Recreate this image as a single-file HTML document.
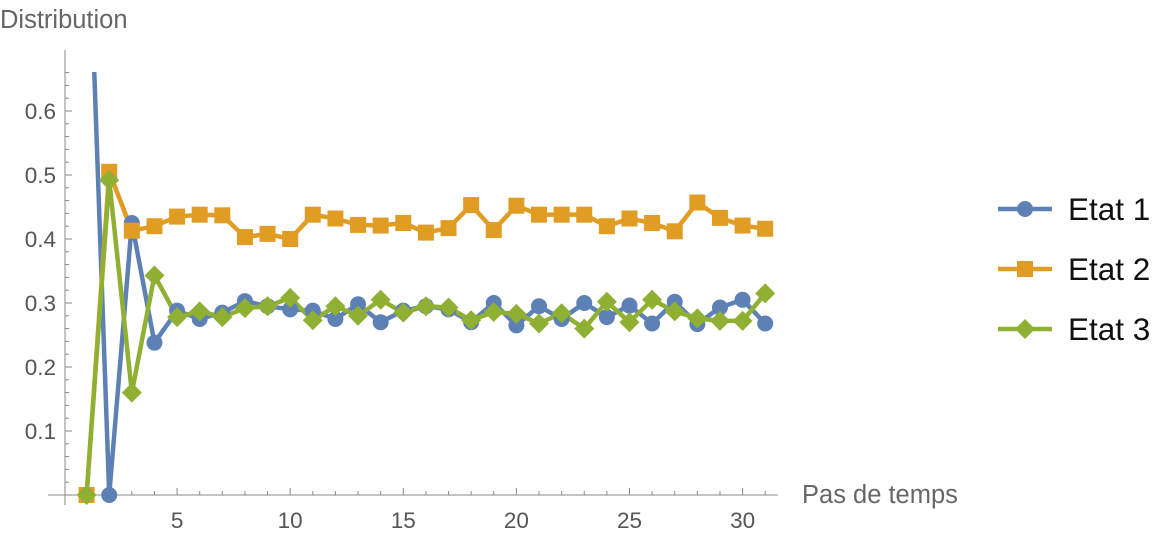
<!DOCTYPE html>
<html><head><meta charset="utf-8"><style>
body{margin:0;background:#fff;}
svg{font-family:"Liberation Sans",sans-serif;}
</style></head><body>
<svg width="1176" height="539">
<defs><clipPath id="pc"><rect x="66" y="72" width="720" height="440"/></clipPath></defs>
<g id="axes"></g>
<g id="series" clip-path="url(#pc)"></g>
<g id="marks"></g>
<text x="0" y="28" font-size="25.5" fill="#666">Distribution</text>
<text x="802" y="503" font-size="25.5" fill="#666">Pas de temps</text>
<g id="legend"></g>
</svg>
<script>
const steps=[1,2,3,4,5,6,7,8,9,10,11,12,13,14,15,16,17,18,19,20,21,22,23,24,25,26,27,28,29,30,31];
const etat1=[1,0,0.425,0.238,0.288,0.275,0.285,0.303,0.295,0.29,0.288,0.275,0.298,0.27,0.288,0.295,0.29,0.27,0.3,0.265,0.295,0.275,0.3,0.278,0.296,0.268,0.302,0.267,0.293,0.305,0.268];
const etat2=[0,0.505,0.413,0.42,0.435,0.438,0.437,0.403,0.408,0.4,0.438,0.432,0.422,0.421,0.425,0.41,0.417,0.453,0.414,0.452,0.438,0.438,0.438,0.42,0.432,0.425,0.412,0.457,0.433,0.421,0.416];
const etat3=[0,0.492,0.16,0.343,0.278,0.287,0.278,0.292,0.295,0.308,0.273,0.295,0.28,0.305,0.285,0.295,0.293,0.273,0.286,0.283,0.268,0.284,0.26,0.302,0.27,0.305,0.287,0.276,0.272,0.272,0.315];
const yTicks=[0.1,0.2,0.3,0.4,0.5,0.6];
const xTicks=[5,10,15,20,25,30];
const names=["Etat 1","Etat 2","Etat 3"];
const colors=["#5e81b5","#e19c24","#8fb032"];
const NS="http://www.w3.org/2000/svg";
function X(v){return 86.6+(v-1)*22.62;}
function Y(v){return 495-v*640;}
function mk(t,a,p){const e=document.createElementNS(NS,t);for(const k in a)e.setAttribute(k,a[k]);p.appendChild(e);return e;}
const ax=document.getElementById('axes');
let l=mk('line',{x1:65,y1:50,x2:65,y2:505,stroke:'#888','stroke-width':1},ax);


l=mk('line',{x1:48,y1:495,x2:778,y2:495,stroke:'#888','stroke-width':1},ax);


for(let i=1;i<=33;i++){const v=i*0.02;const maj=Math.abs(v*10-Math.round(v*10))<1e-6;mk('line',{x1:65,y1:Y(v),x2:65+(maj?7:4),y2:Y(v),stroke:'#888'},ax);}
yTicks.forEach(v=>{const t=mk('text',{x:56,y:Y(v)+8,'text-anchor':'end','font-size':22.5,fill:'#555'},ax);t.textContent=v.toFixed(1);

});
for(let i=1;i<=31;i++){const maj=i%5==0;mk('line',{x1:X(i),y1:495,x2:X(i),y2:495-(maj?7:4),stroke:'#888'},ax);}
xTicks.forEach(v=>{const t=mk('text',{x:X(v),y:528,'text-anchor':'middle','font-size':22.5,fill:'#555'},ax);t.textContent=v;

});
const sg=document.getElementById('series'),mg=document.getElementById('marks');
function marker(type,x,y,c,p){let e;
 if(type==0)e=mk('circle',{cx:x,cy:y,r:8,fill:c},p);
 else if(type==1)e=mk('rect',{x:x-8,y:y-8,width:16,height:16,fill:c},p);
 else e=mk('polygon',{points:`${x},${y-10} ${x+10},${y} ${x},${y+10} ${x-10},${y}`,fill:c},p);
 return e;}
[etat1,etat2,etat3].forEach((d,s)=>{
 const pl=mk('polyline',{points:d.map((v,i)=>X(steps[i])+','+Y(v)).join(' '),fill:'none',stroke:colors[s],'stroke-width':4.5,'stroke-linejoin':'round'},sg);
 
 
 const g=mk('g',{'clip-path':'url(#pc)'},mg);
 d.forEach((v,i)=>{const m=marker(s,X(steps[i]),Y(v),colors[s],g);
 
 });
});
const lg=document.getElementById('legend');
names.forEach((n,s)=>{const y=209+s*60;const g=mk('g',{},lg);
 
 
 mk('line',{x1:998,y1:y,x2:1052,y2:y,stroke:colors[s],'stroke-width':4.5},g);
 marker(s,1025,y,colors[s],g);
 const t=mk('text',{x:1068,y:y+11,'font-size':31.5,fill:'#111'},g);t.textContent=n;});
</script>
</body></html>
